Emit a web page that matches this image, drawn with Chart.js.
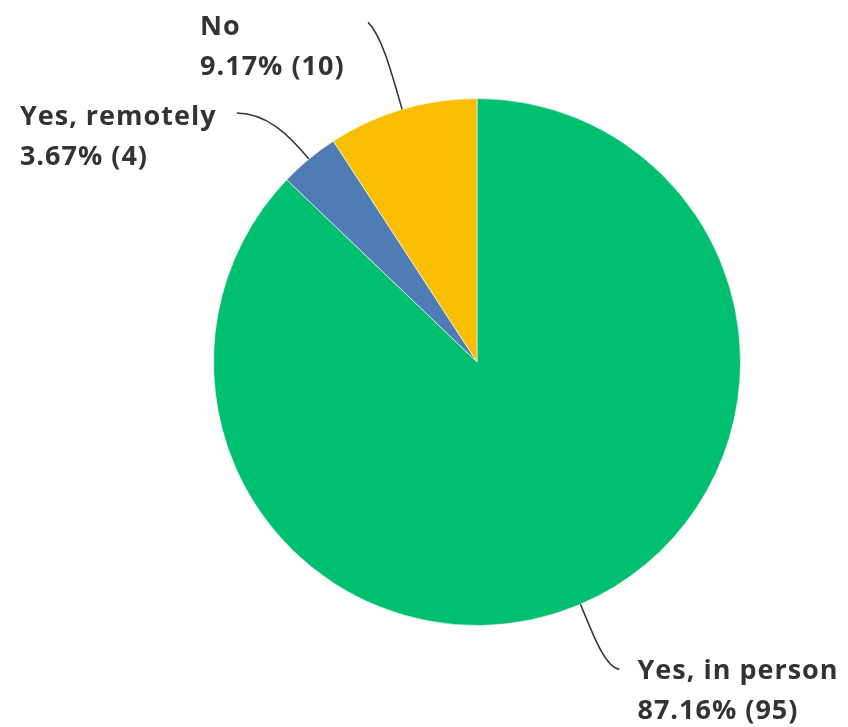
<!DOCTYPE html>
<html>
<head>
<meta charset="utf-8">
<script src="https://cdn.jsdelivr.net/npm/chart.js@4/dist/chart.umd.min.js"></script>
<style>
    body { margin: 0; background: #fff; }
    #wrap { width: 848px; height: 727px; }
</style>
</head>
<body>
<div id="wrap"><canvas id="piechart" width="848" height="727"></canvas></div>
<script>
const answers = ['Yes, in person', 'Yes, remotely', 'No']
const counts = [95, 4, 10]
const colors = ['#00bf6f', '#507cb6', '#f9be00']

// where each leader line ends, relative to the slice edge, and where its text sits
const leaderEnds = [[39, 65], [-72, -46], [-34, -87]]
const textOffsets = [[18, 2], [-217, 4], [-168, 5]]

const total = counts.reduce((a, b) => a + b, 0)

const calloutPlugin = {
    id: 'callouts',
    afterDatasetsDraw(chart) {
        const ctx = chart.ctx
        const arcs = chart.getDatasetMeta(0).data

        arcs.forEach((arc, i) => {
            const mid = (arc.startAngle + arc.endAngle) / 2
            const px = arc.x + Math.cos(mid) * arc.outerRadius
            const py = arc.y + Math.sin(mid) * arc.outerRadius
            const ex = px + leaderEnds[i][0]
            const ey = py + leaderEnds[i][1]

            const c1x = px + Math.cos(mid) * 30
            const c1y = py + Math.sin(mid) * 30
            let c2x, c2y
            if (i === 0) { c2x = ex - 15; c2y = ey - 2 }
            else if (i === 1) { c2x = ex + 30; c2y = ey }
            else { c2x = ex + 15; c2y = ey + 15 }

            ctx.save()
            ctx.strokeStyle = '#333'
            ctx.lineWidth = 1.5
            ctx.beginPath()
            ctx.moveTo(px, py)
            ctx.bezierCurveTo(c1x, c1y, c2x, c2y, ex, ey)
            ctx.stroke()

            const pct = (counts[i] / total * 100).toFixed(2) + '% (' + counts[i] + ')'
            const tx = ex + textOffsets[i][0]
            const ty = ey + textOffsets[i][1]
            ctx.fillStyle = '#333'
            ctx.font = 'bold 27px "Open Sans", Roboto, sans-serif'
            ctx.letterSpacing = '1px'
            ctx.textAlign = 'left'
            ctx.textBaseline = 'middle'
            ctx.fillText(answers[i], tx, ty)
            ctx.fillText(pct, tx, ty + 40)
            ctx.restore()
        })
    }
}

new Chart(document.querySelector('#piechart'), {
    type: 'pie',
    data: {
        labels: answers,
        datasets: [{
            data: counts,
            backgroundColor: colors,
            borderColor: 'rgba(255,255,255,0.6)',
            borderWidth: 1
        }]
    },
    options: {
        responsive: false,
        animation: false,
        layout: { padding: { left: 213, right: 107, top: 98, bottom: 101 } },
        plugins: {
            legend: { display: false },
            tooltip: { enabled: false }
        }
    },
    plugins: [calloutPlugin]
})
</script>
</body>
</html>
